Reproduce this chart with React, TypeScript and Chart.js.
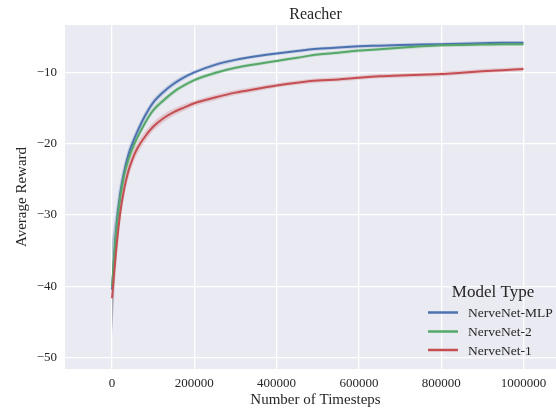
import React, { useEffect, useRef } from "react";
import { Chart, registerables } from "chart.js";

Chart.register(...registerables);

const timesteps = [
  0, 10000, 20000, 30000, 40000, 50000, 60000, 80000, 100000, 125000, 150000,
  175000, 200000, 250000, 300000, 350000, 400000, 450000, 500000, 550000,
  600000, 650000, 700000, 750000, 800000, 850000, 900000, 950000, 1000000,
];

const mlpMean = [
  -40.5, -32, -27, -23.8, -21.5, -19.9, -18.5, -16.1, -14.2, -12.7, -11.55,
  -10.65, -9.95, -8.9, -8.2, -7.7, -7.3, -6.95, -6.65, -6.45, -6.3, -6.2, -6.1,
  -6.05, -6.0, -5.95, -5.85, -5.8, -5.8,
];
const net2Mean = [
  -40, -32.5, -27.5, -24.3, -22.2, -20.6, -19.3, -17.1, -15.3, -13.9, -12.7,
  -11.8, -11.05, -10.05, -9.3, -8.8, -8.35, -7.9, -7.45, -7.2, -6.9, -6.7, -6.5,
  -6.3, -6.15, -6.1, -6.05, -6.0, -6.0,
];
const net1Mean = [
  -41.7, -35, -29.7, -26.2, -23.8, -22.1, -20.8, -19.0, -17.6, -16.4, -15.55,
  -14.9, -14.3, -13.5, -12.8, -12.3, -11.8, -11.4, -11.1, -10.95, -10.7, -10.5,
  -10.4, -10.3, -10.2, -10.0, -9.8, -9.65, -9.5,
];

const mlpSpread = [
  7, 3, 1.8, 1.2, 1.0, 0.8, 0.7, 0.6, 0.5, 0.45, 0.4, 0.35, 0.3, 0.3, 0.25,
  0.25, 0.25, 0.25, 0.25, 0.25, 0.25, 0.25, 0.25, 0.25, 0.25, 0.25, 0.25, 0.25, 0.25,
];
const net2Spread = [
  6, 2.8, 1.6, 1.1, 0.9, 0.7, 0.6, 0.5, 0.45, 0.4, 0.35, 0.3, 0.3, 0.3, 0.25,
  0.25, 0.25, 0.25, 0.25, 0.25, 0.25, 0.25, 0.25, 0.25, 0.25, 0.25, 0.25, 0.25, 0.25,
];
const net1Spread = [
  5, 2.5, 1.6, 1.2, 1.0, 0.9, 0.8, 0.7, 0.6, 0.55, 0.5, 0.45, 0.4, 0.4, 0.35,
  0.35, 0.3, 0.3, 0.3, 0.3, 0.3, 0.3, 0.3, 0.3, 0.3, 0.3, 0.3, 0.3, 0.3,
];

const seriesNames = ["NerveNet-MLP", "NerveNet-2", "NerveNet-1"];
const seriesColors = ["#4C72B0", "#55A868", "#C44E52"];
const bandColors = [
  "rgba(76,114,176,0.22)",
  "rgba(85,168,104,0.22)",
  "rgba(196,78,82,0.22)",
];
const xTicks = [0, 200000, 400000, 600000, 800000, 1000000];
const yTicks = [-50, -40, -30, -20, -10];

const FONT = "'Liberation Serif', 'DejaVu Serif', serif";
const TEXT = "#262626";

export default function App() {
  const ref = useRef<HTMLCanvasElement | null>(null);

  useEffect(() => {
    const means = [mlpMean, net2Mean, net1Mean];
    const spreads = [mlpSpread, net2Spread, net1Spread];
    const datasets: any[] = [];
    means.forEach((m, i) => {
      datasets.push({
        label: "_hi" + i,
        data: timesteps.map((t, k) => ({ x: t, y: m[k] + spreads[i][k] })),
        borderWidth: 0,
        pointRadius: 0,
        backgroundColor: bandColors[i],
        fill: "+1",
        cubicInterpolationMode: "monotone",
        order: 5,
      });
      datasets.push({
        label: "_lo" + i,
        data: timesteps.map((t, k) => ({ x: t, y: m[k] - spreads[i][k] })),
        borderWidth: 0,
        pointRadius: 0,
        fill: false,
        cubicInterpolationMode: "monotone",
        order: 5,
      });
    });
    means.forEach((m, i) => {
      datasets.push({
        label: seriesNames[i],
        data: timesteps.map((t, k) => ({ x: t, y: m[k] })),
        borderColor: seriesColors[i],
        backgroundColor: seriesColors[i],
        borderWidth: 2,
        pointRadius: 0,
        fill: false,
        cubicInterpolationMode: "monotone",
        order: 3 - i,
      });
    });

    const bgPlugin = {
      id: "bg",
      beforeDraw(chart: any) {
        const { ctx, chartArea: a } = chart;
        ctx.save();
        ctx.fillStyle = "#EAEAF2";
        ctx.fillRect(a.left, a.top, a.right - a.left, a.bottom - a.top);
        ctx.restore();
      },
    };

    const legendPlugin = {
      id: "customLegend",
      afterDraw(chart: any) {
        const { ctx, chartArea: a } = chart;
        ctx.save();
        ctx.fillStyle = TEXT;
        ctx.font = `17px ${FONT}`;
        ctx.textAlign = "center";
        ctx.textBaseline = "middle";
        ctx.fillText("Model Type", a.right - 73, a.bottom - 76);
        const ys = [a.bottom - 56.5, a.bottom - 37.5, a.bottom - 19];
        ctx.font = `13.5px ${FONT}`;
        ctx.textAlign = "left";
        seriesNames.forEach((n, i) => {
          ctx.strokeStyle = seriesColors[i];
          ctx.lineWidth = 2.5;
          ctx.beginPath();
          ctx.moveTo(a.right - 138, ys[i]);
          ctx.lineTo(a.right - 108, ys[i]);
          ctx.stroke();
          ctx.fillText(n, a.right - 98, ys[i] + 1);
        });
        ctx.restore();
      },
    };

    const chart = new Chart(ref.current as HTMLCanvasElement, {
      type: "line",
      data: { datasets },
      plugins: [bgPlugin, legendPlugin],
      options: {
        animation: false,
        responsive: false,
        maintainAspectRatio: false,
        layout: { padding: 0 },
        plugins: {
          legend: { display: false },
          tooltip: { enabled: false },
          filler: { propagate: false },
          title: {
            display: true,
            text: "Reacher",
            fullSize: false,
            color: TEXT,
            font: { family: FONT, size: 16, weight: "normal", lineHeight: 1.2 },
            padding: { top: 5, bottom: 0.8 },
          },
        },
        scales: {
          x: {
            type: "linear",
            min: -114200,
            max: 1103300,
            afterBuildTicks(axis: any) {
              axis.ticks = xTicks.map((v) => ({ value: v }));
            },
            afterFit(axis: any) {
              axis.height = 40;
            },
            grid: { color: "#FFFFFF", lineWidth: 1.3, drawTicks: false },
            border: { display: false },
            ticks: {
              color: TEXT,
              padding: 7,
              maxRotation: 0,
              font: { family: FONT, size: 13 },
              callback: (v: any) => String(v),
            },
            title: {
              display: true,
              text: "Number of Timesteps",
              color: TEXT,
              font: { family: FONT, size: 15, lineHeight: 1.2 },
              padding: { top: 0, bottom: 0 },
            },
          },
          y: {
            type: "linear",
            min: -51.64,
            max: -3.3,
            afterBuildTicks(axis: any) {
              axis.ticks = yTicks.map((v) => ({ value: v }));
            },
            afterFit(axis: any) {
              axis.width = 65;
            },
            grid: { color: "#FFFFFF", lineWidth: 1.3, drawTicks: false },
            border: { display: false },
            ticks: {
              color: TEXT,
              padding: 8,
              font: { family: FONT, size: 13 },
              callback: (v: any) => (v < 0 ? "\u2212" + Math.abs(v) : String(v)),
            },
            title: {
              display: true,
              text: "Average Reward",
              color: TEXT,
              font: { family: FONT, size: 15, lineHeight: 1.2 },
              padding: { top: 13, bottom: 0 },
            },
          },
        },
      } as any,
    });
    return () => chart.destroy();
  }, []);

  return (
    <div
      style={{
        position: "fixed",
        left: 0,
        top: 0,
        width: 556,
        height: 409,
        overflow: "hidden",
        background: "#FFFFFF",
      }}
    >
      <canvas ref={ref} width={566} height={409} style={{ display: "block" }} />
    </div>
  );
}
